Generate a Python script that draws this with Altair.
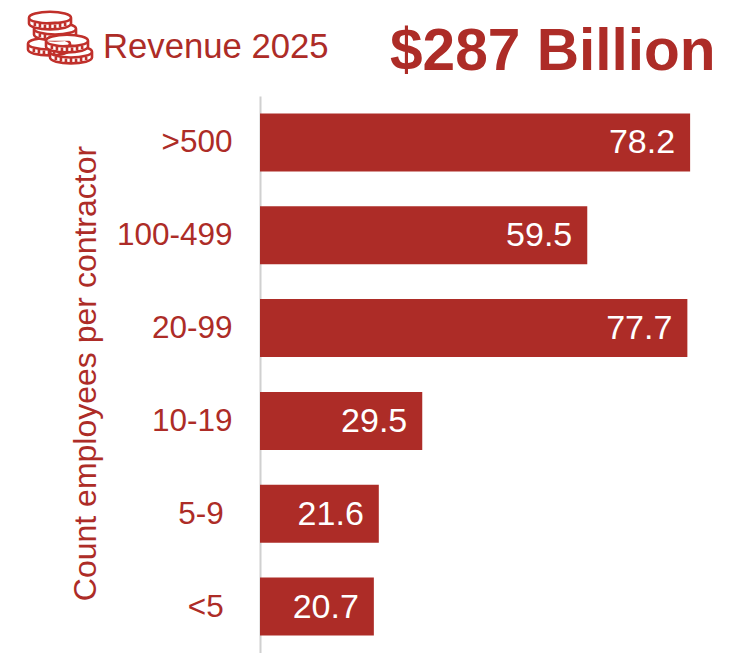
import altair as alt
import pandas as pd

categories = [">500", "100-499", "20-99", "10-19", "5-9\u00a0\u200b", "<5\u00a0\u200b"]
revenue = [78.2, 59.5, 77.7, 29.5, 21.6, 20.7]
value_labels = ["78.2", "59.5", "77.7", "29.5", "21.6", "20.7"]
RED = "#AD2C27"
FONT = "Liberation Sans"

df = pd.DataFrame({"cat": categories, "rev": revenue, "lab": value_labels})

y = alt.Y("cat:N", sort=categories, scale=alt.Scale(paddingInner=0.375, paddingOuter=0.1875),
          axis=alt.Axis(title="Count employees per contractor", titleFont=FONT, titleFontSize=32,
                        titleFontWeight="normal", titleColor=RED, titleX=-158, titleY=277,
                        labelFont=FONT, labelFontSize=31.5, labelColor=RED, labelPadding=28, labelOffset=1,
                        ticks=False, domainColor="#D0D0D0", domainWidth=2, grid=False))
x = alt.X("rev:Q", scale=alt.Scale(domain=[0, 86.36], nice=False), axis=None)

bars = alt.Chart(df).mark_bar(color=RED, size=58).encode(x=x, y=y)
labels = alt.Chart(df).mark_text(align="right", baseline="middle", dx=-15, dy=1, color="white",
                                 font=FONT, fontSize=34).encode(x=x, y=y, text="lab:N")

rev_title = alt.Chart(pd.DataFrame({"t": ["Revenue 2025"]})).mark_text(
    align="left", baseline="alphabetic", color=RED, font=FONT, fontSize=34.7
).encode(x=alt.value(-157), y=alt.value(-38), text="t:N")
big_title = alt.Chart(pd.DataFrame({"t": ["$287 Billion"]})).mark_text(
    align="left", baseline="alphabetic", color=RED, font=FONT, fontWeight="bold", fontSize=58.6
).encode(x=alt.value(130), y=alt.value(-26), text="t:N")

# coin icon: a shallow cylinder with milled edge, in the unit square of a custom symbol
ticks = " ".join(f"M{a},{b} L{a},{c}" for a, b, c in [
    (-0.36, 0.02, 0.12), (-0.24, 0.05, 0.15), (-0.12, 0.07, 0.17), (0, 0.07, 0.18),
    (0.12, 0.07, 0.17), (0.24, 0.05, 0.15), (0.36, 0.02, 0.12)])
COIN = ("M-0.5,-0.08 A0.5,0.14 0 1 1 0.5,-0.08 L0.5,0.06 A0.5,0.14 0 0 1 -0.5,0.06 Z "
        "M-0.5,-0.08 A0.5,0.14 0 0 0 0.5,-0.08 " + ticks)
coin_layers = []
for name, cx, cy in [("c", -211, -49), ("b", -205, -64), ("a", -210, -75), ("e", -189, -41), ("d", -193, -52)]:
    coin_layers.append(
        alt.Chart(pd.DataFrame({"coin": [name]})).mark_point(
            shape=COIN, size=84 ** 2, filled=False, fill="white", fillOpacity=1,
            stroke="#C0302B", strokeWidth=2.6, opacity=1
        ).encode(x=alt.value(cx), y=alt.value(cy), detail="coin:N")
    )

chart = alt.layer(bars, labels, rev_title, big_title, *coin_layers).properties(
    width=475, height=557,
    padding={"left": 252, "top": 88, "right": 0, "bottom": 0},
    autosize=alt.AutoSizeParams(type="none"),
    view=alt.ViewBackground(stroke=None, strokeWidth=0),
).configure_view(strokeWidth=0, stroke=None).configure(background="white")

chart.save("out.html", embed_options={"renderer": "svg", "actions": False})
